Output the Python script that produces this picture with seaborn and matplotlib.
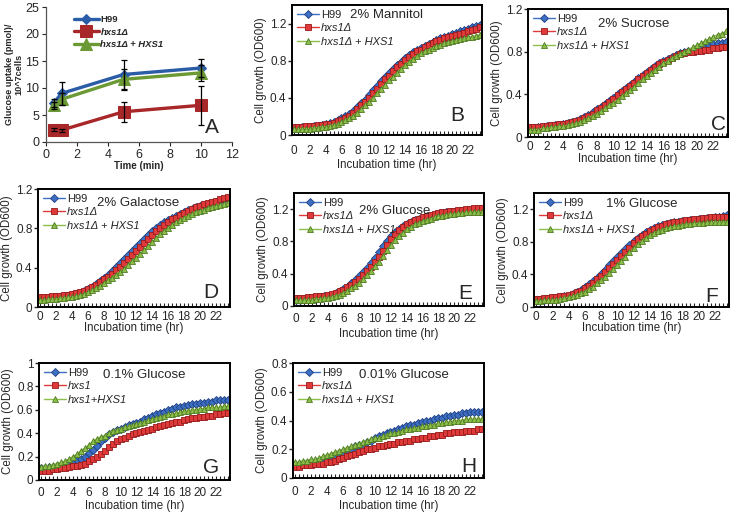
import numpy as np
import pandas as pd
import seaborn as sns
from matplotlib import pyplot as plt
from matplotlib.ticker import MultipleLocator, FuncFormatter

W, H = 737, 512

# ---- panel A: glucose uptake ----
uptake_time = [0.5, 1, 5, 10]
uptake_h99 = [7.2, 9.0, 12.5, 13.7]
uptake_h99_err = [0.7, 2.2, 2.7, 1.6]
uptake_hxs1 = [2.3, 2.2, 5.6, 6.8]
uptake_hxs1_err = [0.3, 0.3, 1.9, 3.6]
uptake_comp = [6.8, 7.9, 11.6, 12.8]
uptake_comp_err = [0.6, 1.1, 1.9, 1.5]

# ---- panels B-H: growth curves, OD600 every 30 min ----
hours = np.arange(0, 24, 0.5)

mannitol_h99 = [0.08, 0.08, 0.09, 0.09, 0.09, 0.10, 0.10, 0.11, 0.12, 0.13, 0.14, 0.16,
                0.18, 0.20, 0.23, 0.26, 0.30, 0.34, 0.38, 0.43, 0.48, 0.53, 0.58, 0.62,
                0.67, 0.71, 0.75, 0.79, 0.83, 0.86, 0.89, 0.92, 0.94, 0.96, 0.98, 1.00,
                1.02, 1.04, 1.06, 1.07, 1.09, 1.10, 1.12, 1.13, 1.14, 1.16, 1.17, 1.19]
mannitol_hxs1 = [0.09, 0.09, 0.09, 0.10, 0.10, 0.10, 0.11, 0.11, 0.12, 0.12, 0.13, 0.15,
                 0.16, 0.18, 0.21, 0.24, 0.28, 0.32, 0.36, 0.40, 0.45, 0.50, 0.55, 0.60,
                 0.64, 0.69, 0.73, 0.77, 0.81, 0.84, 0.87, 0.90, 0.92, 0.95, 0.97, 0.99,
                 1.01, 1.02, 1.04, 1.05, 1.07, 1.08, 1.09, 1.10, 1.12, 1.13, 1.14, 1.16]
mannitol_comp = [0.06, 0.06, 0.07, 0.07, 0.07, 0.08, 0.08, 0.09, 0.09, 0.10, 0.11, 0.12,
                 0.14, 0.16, 0.18, 0.21, 0.24, 0.28, 0.32, 0.36, 0.40, 0.45, 0.50, 0.54,
                 0.59, 0.63, 0.67, 0.71, 0.75, 0.79, 0.82, 0.85, 0.88, 0.90, 0.92, 0.94,
                 0.96, 0.97, 0.99, 1.00, 1.01, 1.02, 1.03, 1.04, 1.05, 1.06, 1.07, 1.08]

sucrose_h99 = [0.08, 0.08, 0.09, 0.09, 0.10, 0.10, 0.11, 0.11, 0.12, 0.13, 0.14, 0.15,
               0.17, 0.19, 0.21, 0.23, 0.26, 0.28, 0.31, 0.34, 0.37, 0.40, 0.43, 0.46,
               0.49, 0.52, 0.55, 0.58, 0.61, 0.64, 0.67, 0.69, 0.71, 0.73, 0.75, 0.77,
               0.79, 0.80, 0.81, 0.82, 0.83, 0.84, 0.85, 0.86, 0.87, 0.88, 0.88, 0.89]
sucrose_hxs1 = [0.09, 0.09, 0.09, 0.10, 0.10, 0.11, 0.11, 0.12, 0.12, 0.13, 0.14, 0.15,
                0.16, 0.18, 0.20, 0.22, 0.25, 0.27, 0.30, 0.33, 0.36, 0.39, 0.42, 0.45,
                0.48, 0.51, 0.54, 0.57, 0.60, 0.63, 0.66, 0.68, 0.70, 0.72, 0.74, 0.76,
                0.78, 0.79, 0.80, 0.80, 0.81, 0.81, 0.82, 0.82, 0.83, 0.83, 0.84, 0.84]
sucrose_comp = [0.07, 0.07, 0.07, 0.08, 0.08, 0.09, 0.09, 0.10, 0.10, 0.11, 0.12, 0.13,
                0.14, 0.16, 0.18, 0.20, 0.22, 0.24, 0.27, 0.30, 0.32, 0.35, 0.38, 0.41,
                0.44, 0.47, 0.51, 0.54, 0.57, 0.60, 0.63, 0.66, 0.69, 0.71, 0.74, 0.76,
                0.78, 0.80, 0.82, 0.84, 0.86, 0.88, 0.90, 0.92, 0.94, 0.96, 0.97, 0.99]

galactose_h99 = [0.08, 0.09, 0.09, 0.09, 0.10, 0.10, 0.11, 0.11, 0.12, 0.13, 0.14, 0.16,
                 0.18, 0.20, 0.23, 0.26, 0.30, 0.33, 0.37, 0.41, 0.45, 0.49, 0.53, 0.57,
                 0.61, 0.65, 0.69, 0.73, 0.77, 0.80, 0.83, 0.86, 0.88, 0.91, 0.93, 0.95,
                 0.97, 0.99, 1.00, 1.02, 1.03, 1.04, 1.05, 1.06, 1.07, 1.08, 1.09, 1.10]
galactose_hxs1 = [0.10, 0.10, 0.10, 0.11, 0.11, 0.11, 0.12, 0.12, 0.13, 0.14, 0.15, 0.16,
                  0.18, 0.20, 0.22, 0.25, 0.28, 0.31, 0.34, 0.38, 0.41, 0.45, 0.49, 0.53,
                  0.57, 0.61, 0.65, 0.69, 0.73, 0.77, 0.80, 0.83, 0.86, 0.89, 0.91, 0.94,
                  0.96, 0.98, 1.00, 1.02, 1.03, 1.05, 1.06, 1.07, 1.08, 1.10, 1.11, 1.12]
galactose_comp = [0.07, 0.07, 0.08, 0.08, 0.08, 0.09, 0.09, 0.10, 0.10, 0.11, 0.12, 0.13,
                  0.15, 0.17, 0.19, 0.21, 0.24, 0.27, 0.30, 0.33, 0.36, 0.39, 0.43, 0.47,
                  0.50, 0.54, 0.58, 0.62, 0.66, 0.70, 0.74, 0.77, 0.80, 0.83, 0.86, 0.88,
                  0.91, 0.93, 0.95, 0.97, 0.98, 0.99, 1.01, 1.02, 1.03, 1.04, 1.05, 1.06]

glucose2_h99 = [0.08, 0.08, 0.09, 0.09, 0.10, 0.10, 0.11, 0.12, 0.13, 0.14, 0.16, 0.18,
                0.21, 0.24, 0.28, 0.32, 0.37, 0.42, 0.47, 0.53, 0.60, 0.67, 0.74, 0.81,
                0.87, 0.92, 0.96, 0.99, 1.02, 1.04, 1.06, 1.08, 1.09, 1.11, 1.12, 1.13,
                1.14, 1.15, 1.16, 1.16, 1.17, 1.17, 1.18, 1.18, 1.18, 1.19, 1.19, 1.19]
glucose2_hxs1 = [0.10, 0.10, 0.10, 0.11, 0.11, 0.12, 0.12, 0.13, 0.14, 0.15, 0.16, 0.18,
                 0.20, 0.23, 0.26, 0.30, 0.34, 0.38, 0.43, 0.48, 0.54, 0.61, 0.68, 0.76,
                 0.83, 0.89, 0.94, 0.98, 1.01, 1.04, 1.06, 1.08, 1.10, 1.11, 1.13, 1.14,
                 1.15, 1.16, 1.17, 1.18, 1.18, 1.19, 1.19, 1.20, 1.20, 1.21, 1.21, 1.21]
glucose2_comp = [0.07, 0.07, 0.07, 0.08, 0.08, 0.09, 0.09, 0.10, 0.10, 0.11, 0.13, 0.14,
                 0.16, 0.19, 0.22, 0.25, 0.29, 0.33, 0.38, 0.43, 0.49, 0.55, 0.62, 0.69,
                 0.76, 0.82, 0.87, 0.91, 0.95, 0.98, 1.01, 1.03, 1.05, 1.07, 1.08, 1.10,
                 1.11, 1.12, 1.13, 1.14, 1.14, 1.15, 1.15, 1.16, 1.16, 1.17, 1.17, 1.17]

glucose1_h99 = [0.08, 0.09, 0.09, 0.10, 0.10, 0.11, 0.12, 0.13, 0.14, 0.16, 0.18, 0.21,
                0.24, 0.28, 0.32, 0.36, 0.41, 0.46, 0.51, 0.56, 0.61, 0.66, 0.71, 0.76,
                0.81, 0.85, 0.89, 0.92, 0.95, 0.97, 0.99, 1.01, 1.02, 1.03, 1.04, 1.05,
                1.06, 1.06, 1.07, 1.07, 1.08, 1.08, 1.09, 1.09, 1.10, 1.11, 1.12, 1.13]
glucose1_hxs1 = [0.10, 0.10, 0.11, 0.11, 0.12, 0.12, 0.13, 0.14, 0.15, 0.16, 0.18, 0.20,
                 0.23, 0.26, 0.30, 0.34, 0.38, 0.43, 0.48, 0.53, 0.58, 0.63, 0.68, 0.73,
                 0.78, 0.83, 0.87, 0.90, 0.93, 0.96, 0.98, 1.00, 1.02, 1.03, 1.04, 1.05,
                 1.06, 1.07, 1.07, 1.08, 1.08, 1.09, 1.09, 1.10, 1.10, 1.10, 1.11, 1.11]
glucose1_comp = [0.07, 0.07, 0.08, 0.08, 0.09, 0.09, 0.10, 0.11, 0.12, 0.13, 0.15, 0.17,
                 0.19, 0.22, 0.25, 0.29, 0.33, 0.37, 0.42, 0.47, 0.52, 0.57, 0.62, 0.67,
                 0.72, 0.77, 0.81, 0.85, 0.88, 0.91, 0.93, 0.95, 0.97, 0.98, 0.99, 1.00,
                 1.01, 1.02, 1.02, 1.03, 1.03, 1.03, 1.04, 1.04, 1.04, 1.05, 1.05, 1.05]

glucose01_h99 = [0.10, 0.10, 0.11, 0.11, 0.12, 0.12, 0.13, 0.14, 0.15, 0.17, 0.18, 0.20,
                 0.23, 0.26, 0.29, 0.33, 0.36, 0.39, 0.41, 0.43, 0.44, 0.45, 0.47, 0.48,
                 0.49, 0.50, 0.52, 0.53, 0.55, 0.56, 0.57, 0.58, 0.60, 0.61, 0.62, 0.62,
                 0.63, 0.64, 0.65, 0.65, 0.66, 0.66, 0.67, 0.67, 0.68, 0.68, 0.68, 0.68]
glucose01_hxs1 = [0.08, 0.08, 0.08, 0.09, 0.09, 0.10, 0.10, 0.11, 0.12, 0.12, 0.13, 0.14,
                  0.16, 0.18, 0.20, 0.22, 0.25, 0.28, 0.31, 0.33, 0.35, 0.36, 0.38, 0.39,
                  0.40, 0.41, 0.42, 0.43, 0.44, 0.45, 0.46, 0.47, 0.48, 0.49, 0.50, 0.50,
                  0.51, 0.52, 0.53, 0.53, 0.54, 0.54, 0.55, 0.55, 0.56, 0.56, 0.57, 0.57]
glucose01_comp = [0.11, 0.12, 0.12, 0.13, 0.14, 0.15, 0.16, 0.18, 0.20, 0.22, 0.25, 0.27,
                  0.30, 0.33, 0.35, 0.37, 0.38, 0.40, 0.42, 0.43, 0.44, 0.45, 0.46, 0.47,
                  0.48, 0.49, 0.50, 0.51, 0.52, 0.53, 0.54, 0.55, 0.56, 0.56, 0.57, 0.58,
                  0.59, 0.59, 0.60, 0.60, 0.61, 0.61, 0.62, 0.62, 0.62, 0.62, 0.63, 0.63]

glucose001_h99 = [0.09, 0.09, 0.10, 0.10, 0.11, 0.11, 0.12, 0.12, 0.13, 0.14, 0.15, 0.16,
                  0.17, 0.19, 0.20, 0.22, 0.23, 0.24, 0.25, 0.26, 0.28, 0.29, 0.30, 0.31,
                  0.32, 0.33, 0.34, 0.35, 0.36, 0.37, 0.37, 0.38, 0.39, 0.40, 0.40, 0.41,
                  0.42, 0.42, 0.43, 0.43, 0.44, 0.44, 0.45, 0.45, 0.46, 0.46, 0.46, 0.46]
glucose001_hxs1 = [0.08, 0.08, 0.09, 0.09, 0.09, 0.10, 0.10, 0.10, 0.11, 0.11, 0.12, 0.13,
                   0.14, 0.15, 0.16, 0.17, 0.18, 0.19, 0.20, 0.20, 0.21, 0.22, 0.22, 0.23,
                   0.24, 0.24, 0.25, 0.25, 0.26, 0.26, 0.27, 0.27, 0.28, 0.28, 0.29, 0.29,
                   0.30, 0.30, 0.31, 0.31, 0.32, 0.32, 0.32, 0.33, 0.33, 0.33, 0.34, 0.34]
glucose001_comp = [0.11, 0.11, 0.12, 0.12, 0.13, 0.13, 0.14, 0.15, 0.16, 0.17, 0.18, 0.19,
                   0.20, 0.21, 0.22, 0.23, 0.24, 0.25, 0.26, 0.27, 0.28, 0.28, 0.29, 0.30,
                   0.31, 0.31, 0.32, 0.33, 0.34, 0.34, 0.35, 0.35, 0.36, 0.36, 0.37, 0.37,
                   0.38, 0.38, 0.39, 0.39, 0.40, 0.40, 0.40, 0.41, 0.41, 0.41, 0.41, 0.41]

legend_std = ['H99', 'hxs1Δ', 'hxs1Δ + HXS1']
legend_g = ['H99', 'hxs1', 'hxs1+HXS1']

# colours (Excel-like)
BLUE, BLUE_E = '#3d6fc4', '#1f3f80'
RED, RED_E = '#e0393a', '#951c1c'
GREEN, GREEN_E = '#8cbf4a', '#4f7a22'


def px_axes(fig, left, top, right, bottom):
    return fig.add_axes([left / W, 1 - bottom / H, (right - left) / W, (bottom - top) / H])


def growth_panel(ax, rect, h99, hxs1, comp, title, letter, ymax, ytop, ystep, labels,
                 title_xy, letter_xy, xlab_top, tick_pad):
    left, top, right, bottom = rect
    aw, ah = right - left, bottom - top
    df = pd.DataFrame({'t': hours, 'H99': h99, 'hxs1': hxs1, 'comp': comp})
    style = [('H99', BLUE, BLUE_E, 'D', 4.0),
             ('hxs1', RED, RED_E, 's', 4.6),
             ('comp', GREEN, GREEN_E, '^', 4.8)]
    for (col, c, ec, m, ms), lab in zip(style, labels):
        sns.lineplot(data=df, x='t', y=col, ax=ax, color=c, marker=m, markersize=ms,
                     markeredgecolor=ec, markeredgewidth=0.6, linewidth=1.0,
                     label=lab, legend=False)
    ax.set_xlim(-0.25, 23.75)
    ax.set_ylim(0, ymax)
    ax.xaxis.set_major_locator(MultipleLocator(2))
    ax.xaxis.set_minor_locator(MultipleLocator(0.5))
    ax.set_yticks(np.arange(0, ytop + 1e-6, ystep))
    ax.yaxis.set_major_formatter(FuncFormatter(lambda v, p: '%g' % round(v, 2)))
    ax.tick_params(axis='x', which='both', direction='in', length=3, width=0.8,
                   labelsize=8.5, pad=tick_pad, bottom=True)
    ax.tick_params(axis='y', which='major', direction='out', length=3, width=1,
                   labelsize=8.5, pad=1, left=True)
    for s in ax.spines.values():
        s.set_visible(True)
        s.set_linewidth(1.4)
        s.set_color('black')
    ax.set_xlabel('Incubation time (hr)', fontsize=8.3)
    ax.set_ylabel('Cell growth (OD600)', fontsize=8.3)
    # label anchors given in pixels from the axes edges
    ax.xaxis.set_label_coords(0.5, -(xlab_top - bottom) / ah)
    ax.yaxis.set_label_coords(-25 / aw, 0.5)
    leg = ax.legend(loc='upper left', bbox_to_anchor=(0.0, 1.0), frameon=False,
                    fontsize=8, handlelength=2.0, handletextpad=0.15,
                    labelspacing=0.3, borderaxespad=0.25, borderpad=0.2)
    for txt in leg.get_texts()[1:]:
        txt.set_fontstyle('italic')
    ax.text(title_xy[0], title_xy[1], title, transform=ax.transAxes, fontsize=9.5,
            ha='center', va='center')
    ax.text(letter_xy[0], letter_xy[1], letter, transform=ax.transAxes, fontsize=15,
            ha='center', va='center')


sns.set_style('white')
plt.rcParams['font.family'] = ['Liberation Sans', 'DejaVu Sans']

fig = plt.figure(figsize=(W / 100, H / 100), dpi=100)

# ---- A ----
axA = px_axes(fig, 46, 7, 232, 142)
dfa = pd.DataFrame({'t': uptake_time, 'H99': uptake_h99, 'hxs1': uptake_hxs1,
                    'comp': uptake_comp})
for col, c, m, ms, err, lab in [
        ('H99', '#2b5ca8', 'D', 5.5, uptake_h99_err, 'H99'),
        ('hxs1', '#a8282a', 's', 8.5, uptake_hxs1_err, 'hxs1Δ'),
        ('comp', '#6b9a35', '^', 8, uptake_comp_err, 'hxs1Δ + HXS1')]:
    sns.lineplot(data=dfa, x='t', y=col, ax=axA, color=c, marker=m, markersize=ms,
                 markeredgecolor=c, linewidth=2.4, label=lab, legend=False)
    axA.errorbar(uptake_time, dfa[col], yerr=err, fmt='none', ecolor='black',
                 elinewidth=0.9, capsize=2.2, capthick=0.9, zorder=4)
axA.set_xlim(0, 12)
axA.set_ylim(0, 25)
axA.xaxis.set_major_locator(MultipleLocator(2))
axA.yaxis.set_major_locator(MultipleLocator(5))
axA.tick_params(axis='both', direction='out', length=3, width=0.8, labelsize=9,
                left=True, bottom=True, pad=2)
for side in ['top', 'right']:
    axA.spines[side].set_visible(False)
for side in ['left', 'bottom']:
    axA.spines[side].set_color('#555555')
    axA.spines[side].set_linewidth(0.9)
axA.set_xlabel('Time (min)', fontsize=7, fontweight='bold')
axA.set_ylabel('Glucose uptake (pmol)/\n10^7cells', fontsize=6.6, fontweight='bold',
               linespacing=1.0)
axA.xaxis.set_label_coords(0.5, -0.14)
axA.yaxis.set_label_coords(-23 / 186, 0.5)
legA = axA.legend(loc='upper left', bbox_to_anchor=(0.12, 0.98), frameon=False,
                  prop={'size': 6.8, 'weight': 'bold'}, handlelength=2.6,
                  handletextpad=0.2, labelspacing=0.35, borderpad=0.1)
for txt in legA.get_texts()[1:]:
    txt.set_fontstyle('italic')
axA.text(0.89, 0.11, 'A', transform=axA.transAxes, fontsize=15, ha='center', va='center')

# ---- B-H ----
rB = (292, 5, 482, 135)
growth_panel(px_axes(fig, *rB), rB, mannitol_h99, mannitol_hxs1, mannitol_comp,
             '2% Mannitol', 'B', 1.4, 1.2, 0.4, legend_std, (0.5, 0.92), (0.87, 0.15), 159, 7)
rC = (528, 9, 728, 137)
growth_panel(px_axes(fig, *rC), rC, sucrose_h99, sucrose_hxs1, sucrose_comp,
             '2% Sucrose', 'C', 1.2, 1.2, 0.4, legend_std, (0.53, 0.88), (0.95, 0.1), 153, 3)
rD = (38, 189, 230, 307)
growth_panel(px_axes(fig, *rD), rD, galactose_h99, galactose_hxs1, galactose_comp,
             '2% Galactose', 'D', 1.2, 1.2, 0.4, legend_std, (0.52, 0.88), (0.9, 0.12), 322, 3)
rE = (294, 193, 484, 306)
growth_panel(px_axes(fig, *rE), rE, glucose2_h99, glucose2_hxs1, glucose2_comp,
             '2% Glucose', 'E', 1.4, 1.2, 0.4, legend_std, (0.53, 0.84), (0.9, 0.11), 328, 5)
rF = (534, 193, 729, 307)
growth_panel(px_axes(fig, *rF), rF, glucose1_h99, glucose1_hxs1, glucose1_comp,
             '1% Glucose', 'F', 1.4, 1.2, 0.4, legend_std, (0.55, 0.9), (0.91, 0.09), 322, 3)
rG = (39, 363, 230, 480)
growth_panel(px_axes(fig, *rG), rG, glucose01_h99, glucose01_hxs1, glucose01_comp,
             '0.1% Glucose', 'G', 1.0, 1.0, 0.2, legend_g, (0.55, 0.9), (0.9, 0.11), 500, 5)
rH = (293, 363, 484, 478)
growth_panel(px_axes(fig, *rH), rH, glucose001_h99, glucose001_hxs1, glucose001_comp,
             '0.01% Glucose', 'H', 0.8, 0.8, 0.2, legend_std, (0.58, 0.9), (0.92, 0.1), 500, 6)

fig.savefig('out.png', dpi=100)
